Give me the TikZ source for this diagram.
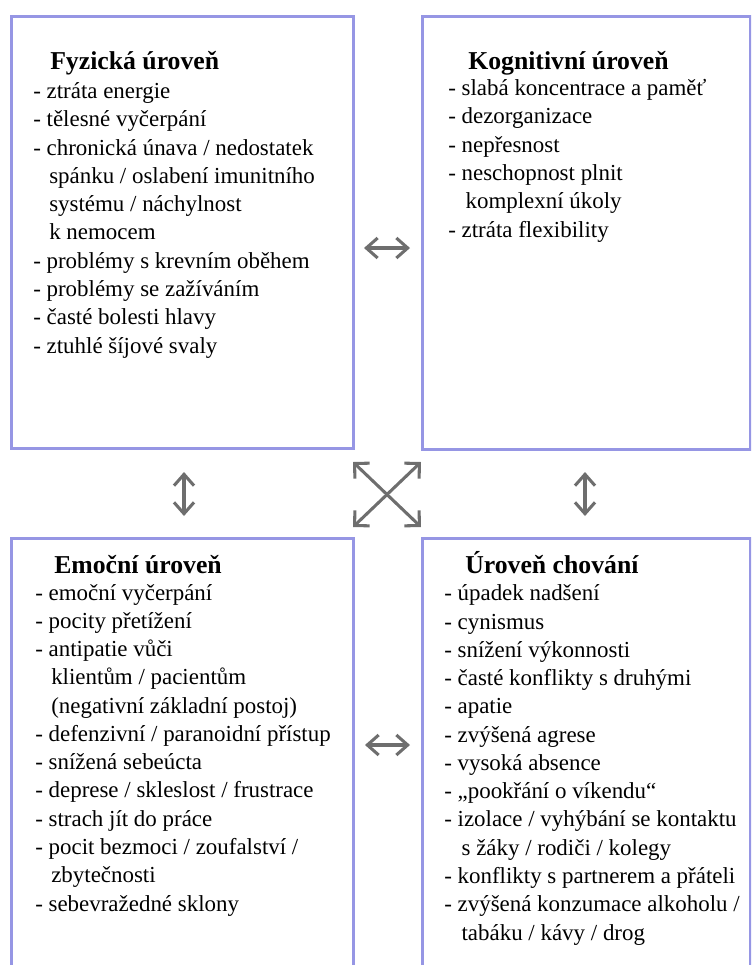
\documentclass[tikz,border=0pt]{standalone}
\usepackage{fontspec}
\setmainfont{Liberation Serif}
\usetikzlibrary{arrows.meta,calc}
\definecolor{boxc}{RGB}{150,150,228}
\definecolor{arrc}{RGB}{110,110,110}
\begin{document}
\begin{tikzpicture}[x=0.75pt,y=-0.75pt,
  box/.style={draw=boxc, line width=2.2pt, rectangle, inner sep=0pt, anchor=north west},
  ttl/.style={anchor=base west, inner sep=0pt, font=\fontsize{19.3}{21}\selectfont\bfseries},
  lst/.style={anchor=base west, inner sep=0pt, align=left, font=\fontsize{17.2}{21.2}\selectfont},
  arr/.style={draw=arrc, line width=2.3pt, {Straight Barb[length=8.5pt,width=15pt]}-{Straight Barb[length=8.5pt,width=15pt]}},
  xarr/.style={draw=arrc, line width=2.3pt, {Straight Barb[length=8pt,width=16pt]}-{Straight Barb[length=8pt,width=16pt]}}]
\useasboundingbox (0,0) rectangle (751,965);
\clip (0,0) rectangle (751,965);
% boxes
\node[box, minimum width=256.5pt, minimum height=324pt] (fyz) at (10,15) {};
\node[box, minimum width=246pt, minimum height=324.75pt] (kog) at (421,15) {};
\node[box, minimum width=256.5pt, minimum height=330pt] (emo) at (10,537) {};
\node[box, minimum width=246pt, minimum height=330pt] (cho) at (421,537) {};
% titles
\node[ttl] (fyzt) at (50,69) {Fyzická úroveň};
\node[ttl] (kogt) at (468,69) {Kognitivní úroveň};
\node[ttl] (emot) at (54,573) {Emoční úroveň};
\node[ttl] (chot) at (465,573) {Úroveň chování};
% lists (anchored at the baseline of their last line)
\node[lst] (fyzl) at (33,353) {- ztráta energie\\
- tělesné vyčerpání\\
- chronická únava / nedostatek\\
\hspace*{12pt}spánku / oslabení imunitního\\
\hspace*{12pt}systému / náchylnost\\
\hspace*{12pt}k nemocem\\
- problémy s krevním oběhem\\
- problémy se zažíváním\\
- časté bolesti hlavy\\
- ztuhlé šíjové svaly};
\node[lst] (kogl) at (448,237) {- slabá koncentrace a paměť\\
- dezorganizace\\
- nepřesnost\\
- neschopnost plnit\\
\hspace*{13pt}komplexní úkoly\\
- ztráta flexibility};
\node[lst] (emol) at (35,911) {- emoční vyčerpání\\
- pocity přetížení\\
- antipatie vůči\\
\hspace*{12pt}klientům / pacientům\\
\hspace*{12pt}(negativní základní postoj)\\
- defenzivní / paranoidní přístup\\
- snížená sebeúcta\\
- deprese / skleslost / frustrace\\
- strach jít do práce\\
- pocit bezmoci / zoufalství /\\
\hspace*{12pt}zbytečnosti\\
- sebevražedné sklony};
\node[lst] (chol) at (444,940) {- úpadek nadšení\\
- cynismus\\
- snížení výkonnosti\\
- časté konflikty s druhými\\
- apatie\\
- zvýšená agrese\\
- vysoká absence\\
- „pookřání o víkendu“\\
- izolace / vyhýbání se kontaktu\\
\hspace*{13pt}s žáky / rodiči / kolegy\\
- konflikty s partnerem a přáteli\\
- zvýšená konzumace alkoholu /\\
\hspace*{13pt}tabáku / kávy / drog};
% arrows
\coordinate (h1l) at (364,248);
\coordinate (h1r) at (410,248);
\coordinate (h2l) at (365,745);
\coordinate (h2r) at (410,745);
\coordinate (v1t) at (184,472);
\coordinate (v1b) at (184,516);
\coordinate (v2t) at (585,472);
\coordinate (v2b) at (585,516);
\coordinate (c1) at (353,462);
\coordinate (c2) at (421,527);
\coordinate (c3) at (421,462);
\coordinate (c4) at (353,527);
\draw[arr] (h1l) -- (h1r);
\draw[arr] (h2l) -- (h2r);
\draw[arr] (v1t) -- (v1b);
\draw[arr] (v2t) -- (v2b);
\draw[xarr] (c1) -- (c2);
\draw[xarr] (c3) -- (c4);
\end{tikzpicture}
\end{document}
